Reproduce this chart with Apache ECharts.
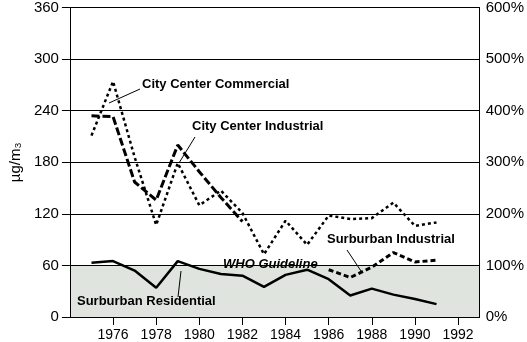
<!DOCTYPE html>
<html><head><meta charset="utf-8">
<script src="https://cdn.jsdelivr.net/npm/echarts@6/dist/echarts.min.js"></script>
<style>html,body{margin:0;padding:0;background:#fff}#c{width:527px;height:342px}</style>
</head><body><div id="c"></div>
<script>
const years = [1975,1976,1977,1978,1979,1980,1981,1982,1983,1984,1985,1986,1987,1988,1989,1990,1991];
const cityCommercial = [211,274,186,107,179,130,147,121,73,112,84,118,114,115,133,106,110];
const cityIndustrial = [234,233,157,136,200,169,139,111];
const subIndustrialYears = [1986,1987,1988,1989,1990,1991];
const subIndustrial = [55,46,58,75,64,66];
const subResidential = [63,65,54,34,65,56,50,48,35,49,55,44,25,33,26,21,15];
const leftTicks = [0,60,120,180,240,300,360];
const rightTicks = [0,100,200,300,400,500,600];
const whoGuideline = 60;

function pairs(xs, ys){ return ys.map((v,i)=>[xs[i], v]); }

const chart = echarts.init(document.getElementById('c'), null, {renderer:'canvas'});
const font = 'Arial, "Liberation Sans", sans-serif';
chart.setOption({
  animation:false,
  backgroundColor:'#fff',
  grid:{left:58, right:46, top:7, bottom:20},
  xAxis:{type:'value', min:1974, max:1993, interval:2, z:3,
    axisLine:{lineStyle:{color:'#000', width:1}},
    axisTick:{show:true, length:8, lineStyle:{color:'#000'}},
    axisLabel:{color:'#000', fontSize:14, fontFamily:font, margin:11, showMinLabel:false, showMaxLabel:false,
      formatter:function(v){return String(v);}},
    splitLine:{show:false}},
  yAxis:[
    {type:'value', min:leftTicks[0], max:leftTicks[leftTicks.length-1], interval:60, z:3,
     name:'µg/m₃', nameLocation:'middle', nameGap:43, nameRotate:90,
     nameTextStyle:{color:'#000', fontSize:15, fontFamily:font},
     axisLine:{show:true, lineStyle:{color:'#000'}},
     axisTick:{show:true, length:8, lineStyle:{color:'#000'}},
     axisLabel:{color:'#000', fontSize:15, fontFamily:font, margin:11},
     splitLine:{show:true, lineStyle:{color:'#000', width:1}}},
    {type:'value', min:rightTicks[0], max:rightTicks[rightTicks.length-1], interval:100, position:'right', z:3,
     axisLine:{show:true, lineStyle:{color:'#000'}},
     axisTick:{show:false},
     axisLabel:{color:'#000', fontSize:15, fontFamily:font, margin:6, formatter:'{value}%'},
     splitLine:{show:false}}
  ],
  series:[
    {type:'line', name:'Surburban Residential', data:pairs(years, subResidential), symbol:'none', z:2,
     lineStyle:{color:'#000', width:2.5},
     markArea:{silent:true, itemStyle:{color:'#dfe5de'}, data:[[{yAxis:0},{yAxis:whoGuideline}]]}},
    {type:'line', name:'City Center Commercial', data:pairs(years, cityCommercial), symbol:'none', z:2,
     lineStyle:{color:'#000', width:2.5, type:[3,3]}},
    {type:'line', name:'City Center Industrial', data:pairs(years.slice(0,cityIndustrial.length), cityIndustrial), symbol:'none', z:2,
     lineStyle:{color:'#000', width:3, type:[8,3]}},
    {type:'line', name:'Surburban Industrial', data:pairs(subIndustrialYears, subIndustrial), symbol:'none', z:2,
     lineStyle:{color:'#000', width:3, type:[5,3]}}
  ],
  graphic:[
    {type:'text', z:10, left:142, top:78, style:{text:'City Center Commercial', font:'bold 13px '+font, fill:'#000'}},
    {type:'text', z:10, left:192, top:120, style:{text:'City Center Industrial', font:'bold 13px '+font, fill:'#000'}},
    {type:'text', z:10, left:327, top:233, style:{text:'Surburban Industrial', font:'bold 13px '+font, fill:'#000'}},
    {type:'text', z:10, left:223, top:258, style:{text:'WHO Guideline', font:'italic bold 13px '+font, fill:'#000'}},
    {type:'text', z:10, left:77, top:295, style:{text:'Surburban Residential', font:'bold 13px '+font, fill:'#000'}},
    {type:'line', z:10, shape:{x1:109,y1:103,x2:140,y2:89}, style:{stroke:'#000', lineWidth:1}},
    {type:'line', z:10, shape:{x1:195,y1:137,x2:179,y2:163}, style:{stroke:'#000', lineWidth:1}},
    {type:'line', z:10, shape:{x1:347,y1:250,x2:361,y2:271}, style:{stroke:'#000', lineWidth:1}},
    {type:'line', z:10, shape:{x1:181,y1:271,x2:178,y2:297}, style:{stroke:'#000', lineWidth:1}}
  ]
});
</script></body></html>
